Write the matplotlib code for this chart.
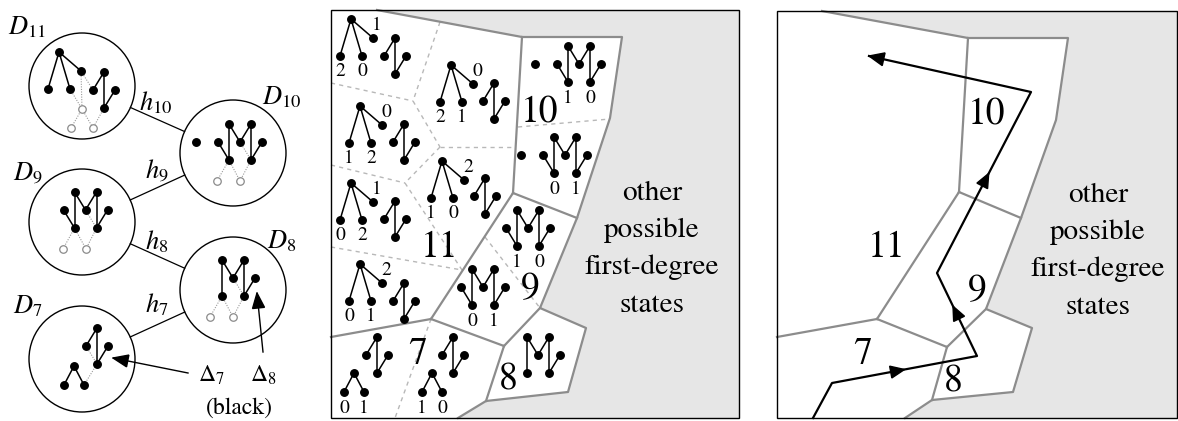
import numpy as np
import matplotlib
matplotlib.use("Agg")
import matplotlib.pyplot as plt
from matplotlib.patches import Circle, Polygon, Rectangle

plt.rcParams['font.family'] = 'STIXGeneral'
plt.rcParams['mathtext.fontset'] = 'stix'

# ---------------- left panel: chain D11 ... D7
d_names = [11, 10, 9, 8, 7]
d_centers = [(82, 86), (233, 153), (82, 222), (233, 290), (82, 359)]
d_label_pos = [(27, 28), (282, 98), (28, 173), (282, 242), (28, 307)]
d_radius = 53
h_links = [(11, 10), (9, 10), (9, 8), (7, 8)]
h_names = [10, 9, 8, 7]
h_label_pos = [(156, 103), (157, 170), (157, 242), (157, 305)]

left_fans = [(59, 52)]
left_smalls = [(104, 72), (97, 328)]
left_ms = [(240, 124, True, True), (85.5, 192, False, True), (233, 260, False, False)]
left_wedges = [(74, 366)]
left_hollow = [(82, 109), (71, 128), (93, 128), (217, 181), (240, 181),
               (63, 249), (86, 249), (210, 317), (233, 317)]
left_dotted = [
    [(81, 71), (82, 109)], [(81, 71), (93, 90)], [(70, 89), (82, 109)],
    [(82, 109), (71, 128)], [(82, 109), (93, 128)], [(104, 108), (93, 128)],
    [(229, 160), (217, 181)], [(229, 160), (240, 181)], [(251, 160), (240, 181)], [(240, 142), (251, 160)],
    [(74.5, 228), (63, 249)], [(74.5, 228), (86, 249)], [(96.5, 228), (86, 249)], [(85.5, 210), (96.5, 228)],
    [(222, 296), (210, 317)], [(222, 296), (233, 317)], [(244, 296), (233, 317)], [(233, 278), (244, 296)],
    [(86, 346), (97, 364)], [(84, 385), (97, 364)],
]
delta_arrows = [[(188, 373), (113, 358)], [(263, 352), (257, 293)]]
delta_labels = [(r'$\Delta_7$', 211, 375), (r'$\Delta_8$', 263, 375), ('(black)', 239, 408)]

# ---------------- middle panel: states with all small graphs
mid_box = (331, 10, 739, 418)
mid_outer = [(377, 10), (522, 37), (622, 37), (610, 118), (577, 218), (540, 308),
             (586, 328), (568, 392), (486, 401), (458, 418)]
mid_solid = [[(522, 37), (513, 193)], [(513, 193), (577, 218)], [(513, 193), (431, 319)],
             [(431, 319), (331, 337)], [(431, 319), (504, 346)], [(504, 346), (540, 308)],
             [(504, 346), (486, 401)]]
mid_dashed = [[(440, 22), (413, 101)], [(331, 83), (413, 101)], [(413, 101), (440, 147)],
              [(440, 147), (513, 147)], [(440, 147), (405, 183)], [(331, 165), (405, 183)],
              [(405, 183), (462, 270)], [(331, 247), (462, 270)], [(518, 127), (610, 119)],
              [(485, 237), (540, 308)], [(431, 319), (395, 418)]]
fan_roots = [(351, 19), (451, 65), (360, 106), (442, 161), (351, 183), (360, 264)]
fan_labels = [("2", "0", "1"), ("2", "1", "0"), ("1", "2", "0"),
              ("1", "0", "2"), ("0", "2", "1"), ("0", "1", "2")]
small_tops = [(395, 38), (494, 83), (404, 124), (485, 178), (395, 201), (404, 283),
              (377, 337), (453, 337)]
m_tops = [(579, 46), (565, 137), (528, 210), (483, 269), (538, 337)]
m_iso = [True, True, False, False, False]
m_left = [True, True, True, True, False]
m_labels = [("1", "0"), ("0", "1"), ("1", "0"), ("0", "1"), None]
wedge_apex = [(354, 373), (432, 373)]
wedge_labels = [("0", "1"), ("1", "0")]
mid_numbers = [("11", 440, 248), ("10", 540, 113), ("9", 530, 290), ("7", 418, 355), ("8", 508, 380)]
other_lines = ["other", "possible", "first-degree", "states"]
other_y = [193, 230, 267, 305]

# ---------------- right panel: the path
right_box = (777, 11, 1177, 418)
right_outer = [(822, 11), (968, 38), (1068, 38), (1056, 120), (1021, 218), (986, 309),
               (1032, 328), (1013, 392), (932, 400), (905, 418)]
right_solid = [[(968, 38), (959, 192)], [(959, 192), (1021, 218)], [(959, 192), (877, 319)],
               [(877, 319), (777, 337)], [(877, 319), (947, 347)], [(947, 347), (986, 309)],
               [(947, 347), (932, 400)]]
right_numbers = [("10", 987, 115), ("11", 887, 248), ("9", 977, 292), ("7", 863, 355), ("8", 953, 382)]
path_x = [813, 832, 977, 937, 1031, 869]
path_y = [418, 383, 356, 273, 92, 56]
path_heads = [(1, 0.5), (2, 0.6), (3, 0.55)]

# glyph shapes (offsets in px)
FAN = [(0, 0), (-11, 37), (11, 37), (22, 19)]
FAN_E = [(0, 1), (0, 2), (0, 3)]
SMALL = [(0, 0), (-11, 18), (11, 18), (0, 36)]
SMALL_E = [(0, 1), (0, 3), (3, 2)]
MSH = [(-11, 0), (11, 0), (0, 18), (-22, 18), (22, 18), (-11, 36), (11, 36)]
MSH_E = [(0, 5), (0, 2), (2, 1), (1, 6), (3, 5), (4, 6)]
WEDGE = [(0, 0), (-10, 19), (10, 19)]
WEDGE_E = [(0, 1), (0, 2)]

GRAY = '#8c8c8c'
FILL = '#e6e6e6'
DASH = '#b8b8b8'

fig = plt.figure(figsize=(11.78, 4.21), dpi=100)
ax = fig.add_axes([0, 0, 1, 1])
ax.set_xlim(0, 1178)
ax.set_ylim(421, 0)
ax.axis('off')


def glyph(nodes, edges, x, y, skip=()):
    pts = [(x + dx, y + dy) for dx, dy in nodes]
    for i, j in edges:
        if i in skip or j in skip:
            continue
        ax.plot([pts[i][0], pts[j][0]], [pts[i][1], pts[j][1]], color='black', lw=1.1, zorder=4)
    for k, (px, py) in enumerate(pts):
        if k not in skip:
            ax.plot(px, py, 'o', ms=5.4, color='black', zorder=5)
    return pts


def small_label(txt, x, y):
    ax.text(x, y, txt, fontsize=14, ha='center', va='center', zorder=6)


def head(p, q, L=14, W=12):
    p, q = np.array(p, float), np.array(q, float)
    d = (q - p) / np.linalg.norm(q - p)
    n = np.array([-d[1], d[0]])
    base = q - d * L
    ax.add_patch(Polygon([q, base + n * W / 2, base - n * W / 2], closed=True,
                         color='black', zorder=7))


def seg(s, **kw):
    ax.plot([s[0][0], s[1][0]], [s[0][1], s[1][1]], **kw)


# ---- left panel
cmap = dict(zip(d_names, d_centers))
for (a, b), hn, (hx, hy) in zip(h_links, h_names, h_label_pos):
    pa, pb = np.array(cmap[a], float), np.array(cmap[b], float)
    u = (pb - pa) / np.linalg.norm(pb - pa)
    s, e = pa + u * d_radius, pb - u * d_radius
    ax.plot([s[0], e[0]], [s[1], e[1]], color='black', lw=0.9)
    ax.text(hx, hy, r'$h_{%d}$' % hn, fontsize=19, ha='center', va='center')
for n, c, (lx, ly) in zip(d_names, d_centers, d_label_pos):
    ax.add_patch(Circle(c, d_radius, fill=False, ec='black', lw=1.0))
    ax.text(lx, ly, r'$D_{%d}$' % n, fontsize=19, ha='center', va='center')
for s in left_dotted:
    seg(s, color='#9a9a9a', lw=0.8, ls=(0, (1, 1.3)), zorder=3)
for x, y in left_fans:
    glyph(FAN, FAN_E, x, y)
for x, y in left_smalls:
    glyph(SMALL, SMALL_E, x, y)
for x, y, iso, lft in left_ms:
    glyph(MSH, MSH_E, x, y, skip=() if lft else (3,))
    if iso:
        ax.plot(x - 44, y + 18, 'o', ms=5.4, color='black', zorder=5)
for x, y in left_wedges:
    glyph(WEDGE, WEDGE_E, x, y)
for x, y in left_hollow:
    ax.plot(x, y, 'o', ms=5.4, mfc='white', mec='#8a8a8a', mew=0.9, zorder=5)
for s in delta_arrows:
    seg(s, color='black', lw=1.0)
    head(s[0], s[1], L=15, W=12)
for t, x, y in delta_labels:
    ax.text(x, y, t, fontsize=17, ha='center', va='center')

# ---- middle panel
x0, y0, x1, y1 = mid_box
ax.add_patch(Polygon(mid_outer + [(x1, y1), (x1, y0)], closed=True, color=FILL, lw=0, zorder=0))
ax.plot([p[0] for p in mid_outer], [p[1] for p in mid_outer], color=GRAY, lw=1.6, zorder=2)
for s in mid_solid:
    seg(s, color=GRAY, lw=1.6, zorder=2)
for s in mid_dashed:
    seg(s, color=DASH, lw=1.0, ls=(0, (3, 3)), zorder=1)
ax.add_patch(Rectangle((x0, y0), x1 - x0, y1 - y0, fill=False, ec='black', lw=1.0, zorder=8))

for (x, y), labs in zip(fan_roots, fan_labels):
    p = glyph(FAN, FAN_E, x, y)
    small_label(labs[0], p[1][0], p[1][1] + 15)
    small_label(labs[1], p[2][0], p[2][1] + 15)
    small_label(labs[2], p[3][0] + 4, p[3][1] - 13)
for x, y in small_tops:
    glyph(SMALL, SMALL_E, x, y)
for (x, y), iso, lft, labs in zip(m_tops, m_iso, m_left, m_labels):
    p = glyph(MSH, MSH_E, x, y, skip=() if lft else (3,))
    if iso:
        ax.plot(x - 44, y + 18, 'o', ms=5.4, color='black', zorder=5)
    if labs:
        small_label(labs[0], p[5][0], p[5][1] + 16)
        small_label(labs[1], p[6][0], p[6][1] + 16)
for (x, y), labs in zip(wedge_apex, wedge_labels):
    p = glyph(WEDGE, WEDGE_E, x, y)
    small_label(labs[0], p[1][0], p[1][1] + 16)
    small_label(labs[1], p[2][0], p[2][1] + 16)
for t, x, y in mid_numbers:
    ax.text(x, y, t, fontsize=27, ha='center', va='center', zorder=6)
for t, y in zip(other_lines, other_y):
    ax.text(652, y, t, fontsize=21, ha='center', va='center')

# ---- right panel
x0, y0, x1, y1 = right_box
ax.add_patch(Polygon(right_outer + [(x1, y1), (x1, y0)], closed=True, color=FILL, lw=0, zorder=0))
ax.plot([p[0] for p in right_outer], [p[1] for p in right_outer], color=GRAY, lw=1.6, zorder=2)
for s in right_solid:
    seg(s, color=GRAY, lw=1.6, zorder=2)
ax.add_patch(Rectangle((x0, y0), x1 - x0, y1 - y0, fill=False, ec='black', lw=1.0, zorder=8))
for t, x, y in right_numbers:
    ax.text(x, y, t, fontsize=27, ha='center', va='center', zorder=6)
for t, y in zip(other_lines, other_y):
    ax.text(1098, y + 2, t, fontsize=21, ha='center', va='center')

ax.plot(path_x, path_y, color='black', lw=1.6, zorder=6)
for i, f in path_heads:
    p = (path_x[i], path_y[i])
    q = (path_x[i + 1], path_y[i + 1])
    tip = (p[0] + f * (q[0] - p[0]), p[1] + f * (q[1] - p[1]))
    head(p, tip, L=14, W=12)
head((path_x[-2], path_y[-2]), (path_x[-1], path_y[-1]), L=15, W=13)

fig.savefig('out.png', dpi=100)
